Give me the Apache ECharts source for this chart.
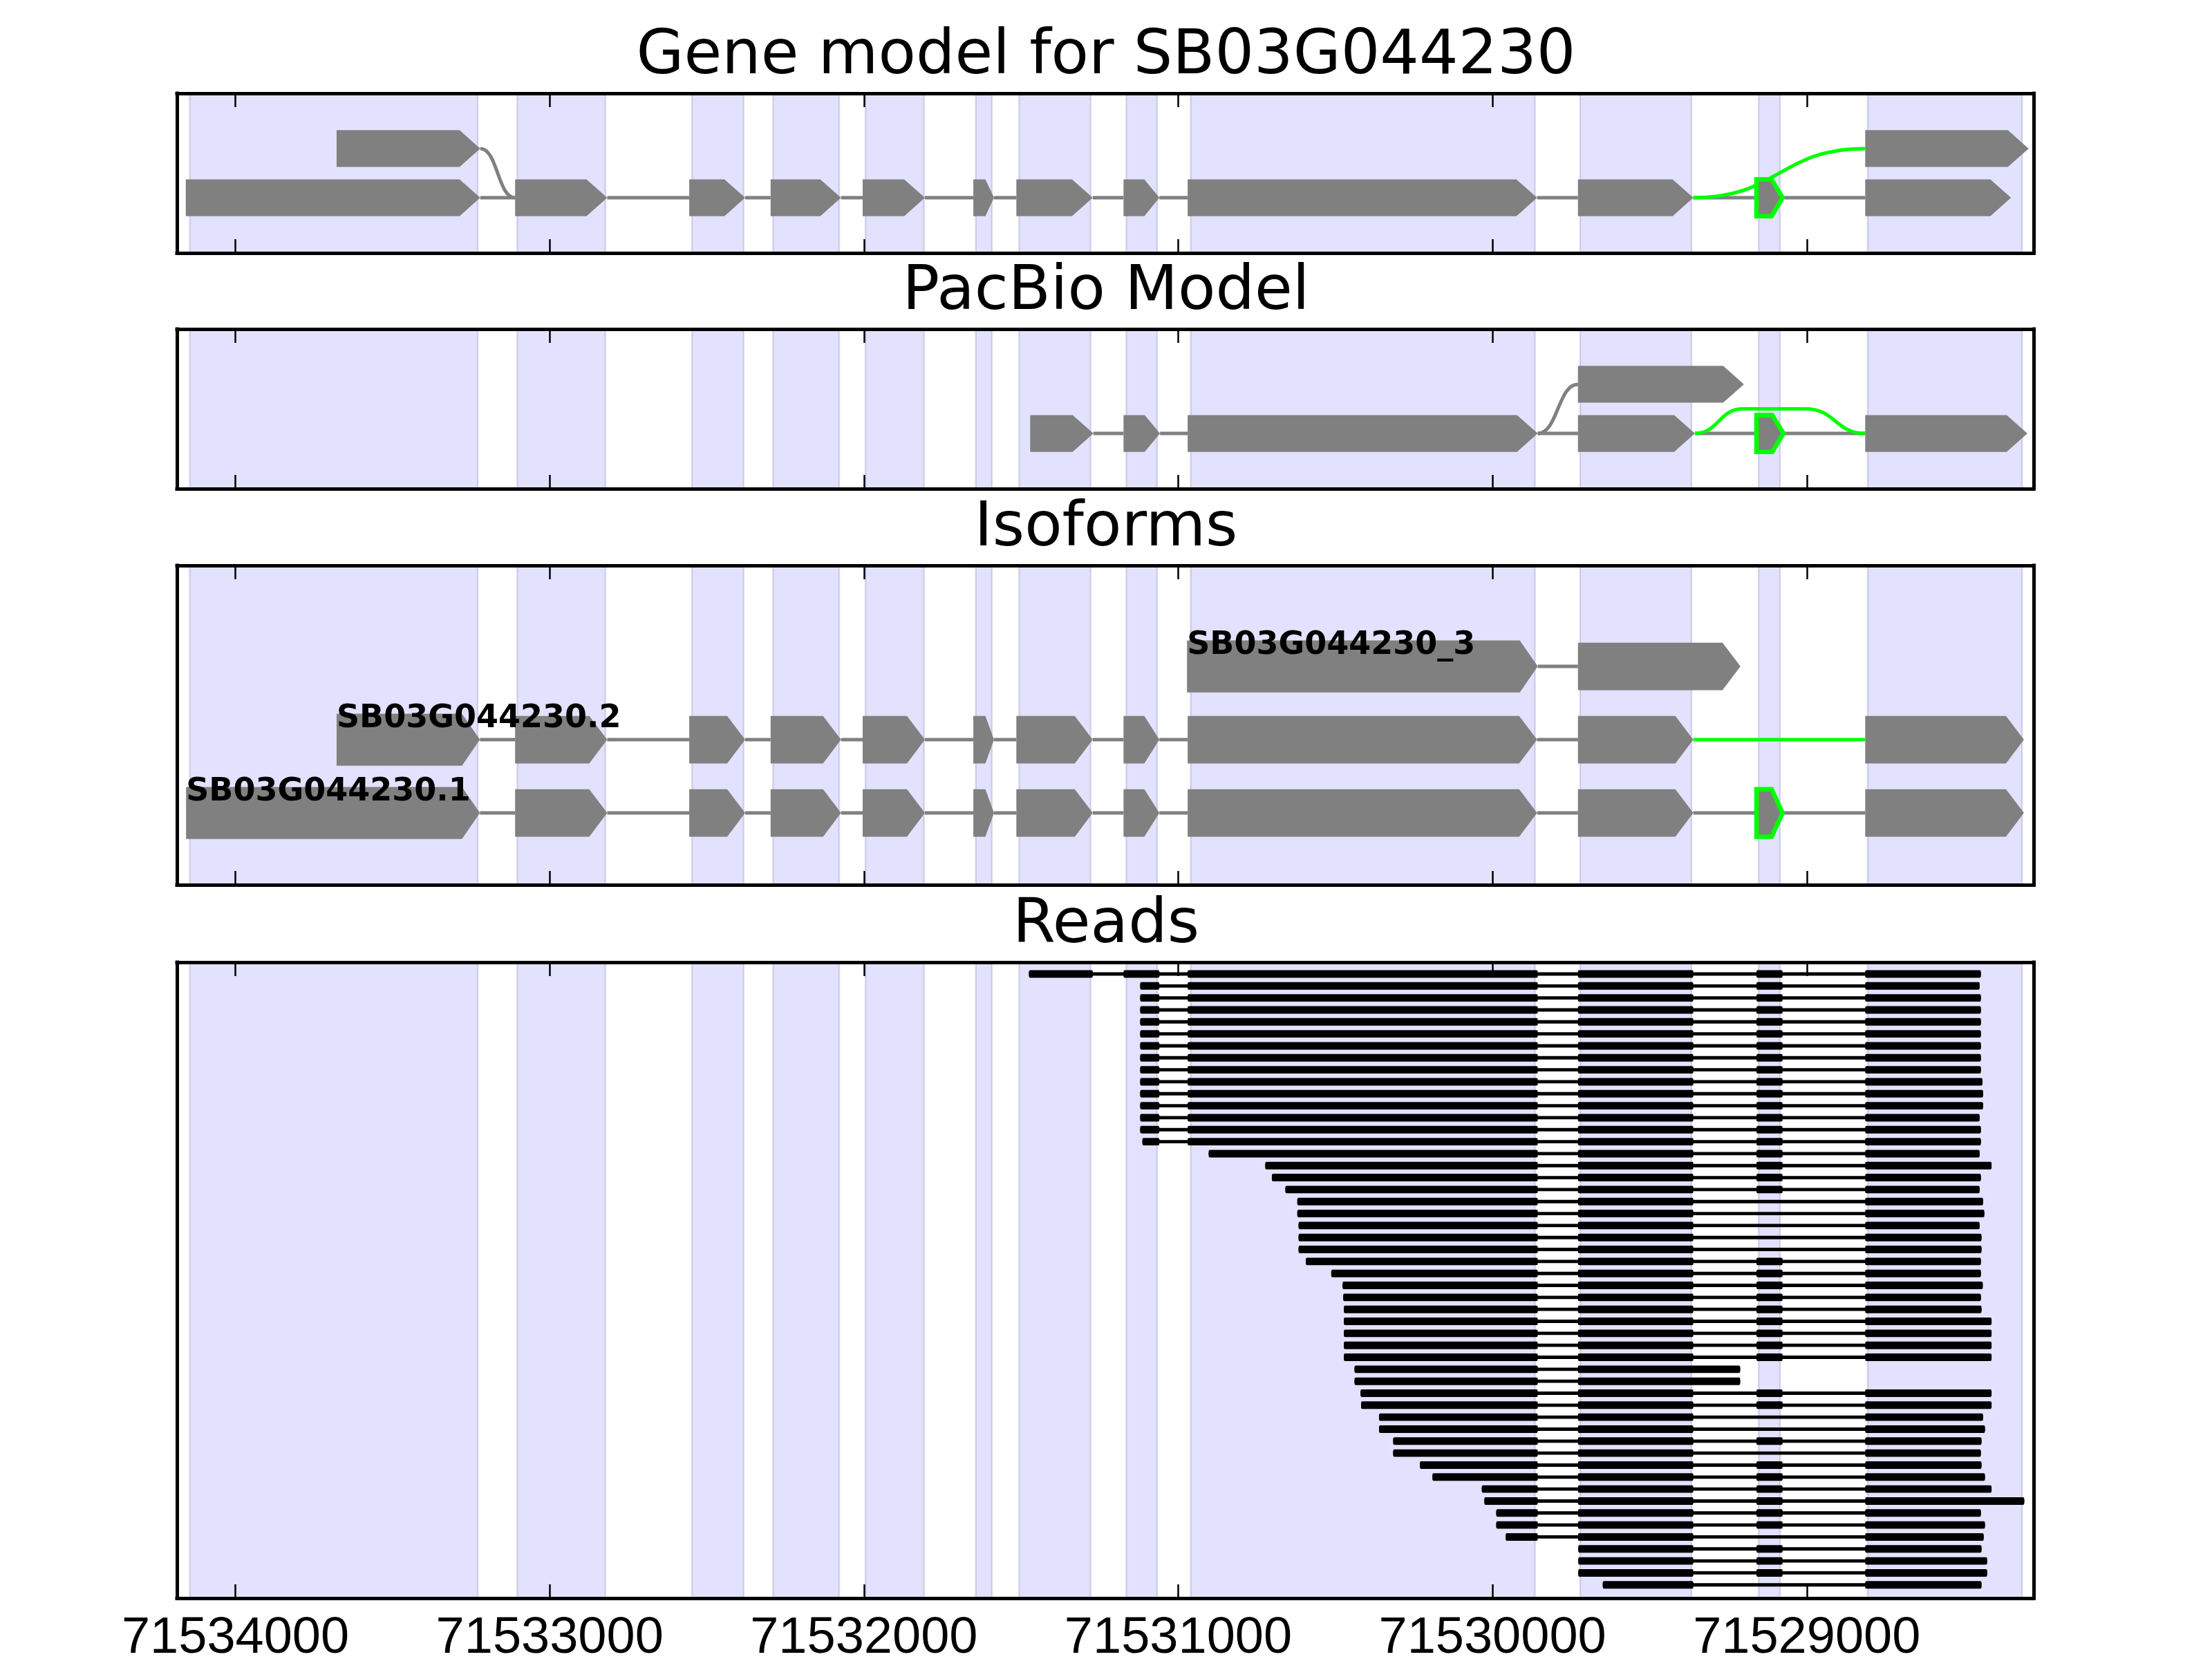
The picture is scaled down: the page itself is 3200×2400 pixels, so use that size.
<!DOCTYPE html>
<html><head><meta charset="utf-8">
<script src="https://cdn.jsdelivr.net/npm/echarts@6/dist/echarts.min.js"></script>
<style>html,body{margin:0;padding:0;background:#fff}#c{width:3200px;height:2400px}</style>
</head><body><div id="c"></div>
<script>
// ---------------- DATA ----------------
const panelTitles = ['Gene model for SB03G044230', 'PacBio Model', 'Isoforms', 'Reads'];
const xTicks = [71534000, 71533000, 71532000, 71531000, 71530000, 71529000];
const xRange = [71528278, 71534186];

// exon regions shaded in every panel [start, end]
const shadeRegions = [
  [71534145, 71533229], [71533103, 71532823], [71532547, 71532383], [71532289, 71532079],
  [71531995, 71531809], [71531644, 71531593], [71531506, 71531279], [71531165, 71531067],
  [71530960, 71529865], [71529721, 71529367], [71529153, 71529085], [71528806, 71528315]
];

// Gene model: [start, end, row, alternative(1=highlighted)]
const geneModelExons = [
  [71534158, 71533221, 0, 0], [71533110, 71532817, 0, 0], [71532556, 71532378, 0, 0],
  [71532297, 71532073, 0, 0], [71532004, 71531806, 0, 0], [71531652, 71531586, 0, 0],
  [71531515, 71531272, 0, 0], [71531174, 71531060, 0, 0], [71530970, 71529858, 0, 0],
  [71529728, 71529361, 0, 0], [71529160, 71529077, 0, 1], [71528814, 71528350, 0, 0],
  [71533678, 71533221, 1, 0], [71528814, 71528294, 1, 0]
];
// junctions: [from, fromRow, to, toRow, kind(0 line,1 curve,2 arc), alternative, arcHeight]
const geneModelJunctions = [
  [71533221, 0, 71533110, 0, 0, 0, 0], [71532817, 0, 71532556, 0, 0, 0, 0],
  [71532378, 0, 71532297, 0, 0, 0, 0], [71532073, 0, 71532004, 0, 0, 0, 0],
  [71531806, 0, 71531652, 0, 0, 0, 0], [71531586, 0, 71531515, 0, 0, 0, 0],
  [71531272, 0, 71531174, 0, 0, 0, 0], [71531060, 0, 71530970, 0, 0, 0, 0],
  [71529858, 0, 71529728, 0, 0, 0, 0], [71529361, 0, 71529160, 0, 0, 0, 0],
  [71529077, 0, 71528814, 0, 0, 0, 0],
  [71533221, 1, 71533110, 0, 1, 0, 0],
  [71529361, 0, 71528814, 1, 1, 1, 0]
];

const pacbioExons = [
  [71531471, 71531270, 0, 0], [71531174, 71531058, 0, 0], [71530970, 71529856, 0, 0],
  [71529728, 71529356, 0, 0], [71529160, 71529074, 0, 1], [71528814, 71528298, 0, 0],
  [71529728, 71529200, 1, 0]
];
const pacbioJunctions = [
  [71531270, 0, 71531174, 0, 0, 0, 0], [71531058, 0, 71530970, 0, 0, 0, 0],
  [71529856, 0, 71529728, 0, 0, 0, 0], [71529356, 0, 71529160, 0, 0, 0, 0],
  [71529074, 0, 71528814, 0, 0, 0, 0],
  [71529856, 0, 71529728, 1, 1, 0, 0],
  [71529356, 0, 71528814, 0, 2, 1, 0.5]
];

const isoformNames = ['SB03G044230.1', 'SB03G044230.2', 'SB03G044230_3'];
const isoformExons = [
  [71534157, 71533222, 0, 0], [71533110, 71532817, 0, 0], [71532556, 71532378, 0, 0],
  [71532297, 71532073, 0, 0], [71532004, 71531806, 0, 0], [71531652, 71531586, 0, 0],
  [71531515, 71531272, 0, 0], [71531174, 71531060, 0, 0], [71530970, 71529858, 0, 0],
  [71529728, 71529361, 0, 0], [71529160, 71529077, 0, 1], [71528814, 71528309, 0, 0],
  [71533678, 71533222, 1, 0], [71533110, 71532817, 1, 0], [71532556, 71532378, 1, 0],
  [71532297, 71532073, 1, 0], [71532004, 71531806, 1, 0], [71531652, 71531586, 1, 0],
  [71531515, 71531272, 1, 0], [71531174, 71531060, 1, 0], [71530970, 71529858, 1, 0],
  [71529728, 71529361, 1, 0], [71528814, 71528309, 1, 0],
  [71530972, 71529856, 2, 0], [71529728, 71529211, 2, 0]
];
const isoformJunctions = [
  [71533222, 0, 71533110, 0, 0, 0, 0], [71532817, 0, 71532556, 0, 0, 0, 0],
  [71532378, 0, 71532297, 0, 0, 0, 0], [71532073, 0, 71532004, 0, 0, 0, 0],
  [71531806, 0, 71531652, 0, 0, 0, 0], [71531586, 0, 71531515, 0, 0, 0, 0],
  [71531272, 0, 71531174, 0, 0, 0, 0], [71531060, 0, 71530970, 0, 0, 0, 0],
  [71529858, 0, 71529728, 0, 0, 0, 0], [71529361, 0, 71529160, 0, 0, 0, 0],
  [71529077, 0, 71528814, 0, 0, 0, 0],
  [71533222, 1, 71533110, 1, 0, 0, 0], [71532817, 1, 71532556, 1, 0, 0, 0],
  [71532378, 1, 71532297, 1, 0, 0, 0], [71532073, 1, 71532004, 1, 0, 0, 0],
  [71531806, 1, 71531652, 1, 0, 0, 0], [71531586, 1, 71531515, 1, 0, 0, 0],
  [71531272, 1, 71531174, 1, 0, 0, 0], [71531060, 1, 71530970, 1, 0, 0, 0],
  [71529858, 1, 71529728, 1, 0, 0, 0], [71529361, 1, 71528814, 1, 0, 1, 0],
  [71529856, 2, 71529728, 2, 0, 0, 0]
];

// Reads: exon model used by the reads (index 4 = alternative exon)
const readExonModel = [
  [71531515, 71531272], [71531174, 71531060], [71530970, 71529856],
  [71529728, 71529361], [71529160, 71529077], [71528814, 71528200]
];
const readStarts = [
  71531475, 71531121, 71531121, 71531121, 71531121, 71531121, 71531121, 71531121,
  71531121, 71531121, 71531121, 71531121, 71531121, 71531121, 71531114, 71530903,
  71530723, 71530702, 71530659, 71530621, 71530621, 71530617, 71530617, 71530617,
  71530594, 71530513, 71530477, 71530475, 71530473, 71530473, 71530473, 71530473,
  71530473, 71530439, 71530439, 71530420, 71530418, 71530361, 71530361, 71530316,
  71530316, 71530231, 71530191, 71530034, 71530026, 71529988, 71529988, 71529958,
  71529727, 71529727, 71529727, 71529649
];
const readEnds = [
  71528446, 71528450, 71528446, 71528446, 71528446, 71528446, 71528446, 71528446,
  71528446, 71528441, 71528439, 71528439, 71528450, 71528446, 71528446, 71528450,
  71528412, 71528446, 71528450, 71528439, 71528435, 71528450, 71528444, 71528444,
  71528446, 71528446, 71528440, 71528446, 71528444, 71528412, 71528412, 71528412,
  71528412, 71529212, 71529212, 71528412, 71528412, 71528439, 71528433, 71528444,
  71528446, 71528444, 71528433, 71528412, 71528308, 71528446, 71528433, 71528437,
  71528444, 71528426, 71528426, 71528444
];
const readSkipsAltExon = [
  0, 0, 0, 0, 0, 0, 0, 0, 0, 0, 0, 0, 0, 0, 0, 0, 0, 0, 0, 1, 1, 1, 1, 1, 0, 0,
  0, 0, 0, 0, 0, 0, 0, 0, 0, 0, 0, 1, 1, 0, 1, 0, 0, 0, 0, 0, 0, 1, 0, 0, 0, 1
];

// ---------------- STYLE / LAYOUT ----------------
const GRAY = '#808080', LIME = '#00ff00';
const SHADE_FILL = '#e2e2fe', SHADE_EDGE = 'rgba(150,150,200,0.35)';
const GRID_LEFT = 256, GRID_WIDTH = 2686;
const GRIDS = [{top: 135, height: 231}, {top: 476, height: 231}, {top: 818, height: 462}, {top: 1392, height: 920}];
const Y_RANGES = [[-1.125, 2.125], [-1.125, 2.125], [-0.98, 3.378], [-0.98, 52.11]];
const HEAD_MAX = [30, 30, 26];

// ---------------- RENDERERS ----------------
function shadeRender(params, api) {
  const cs = params.coordSys;
  const a = api.coord([api.value(0), 0])[0];
  const b = api.coord([api.value(1), 0])[0];
  return {type: 'rect', shape: {x: Math.min(a, b), y: cs.y, width: Math.abs(b - a), height: cs.height},
          style: {fill: SHADE_FILL, stroke: SHADE_EDGE, lineWidth: 2.5}};
}
function exonRender(headMax) {
  return function (params, api) {
    const row = api.value(2);
    const p1 = api.coord([api.value(0), row]);
    const p2 = api.coord([api.value(1), row]);
    const h = Math.abs(api.size([0, api.value(4)])[1]);
    const xl = Math.min(p1[0], p2[0]), xr = Math.max(p1[0], p2[0]);
    const yc = p1[1];
    const head = Math.min(headMax, 0.42 * (xr - xl));
    const alt = api.value(3) === 1;
    return {type: 'polygon', shape: {points: [[xl, yc - h / 2], [xr - head, yc - h / 2], [xr, yc], [xr - head, yc + h / 2], [xl, yc + h / 2]]},
            style: {fill: GRAY, stroke: alt ? LIME : null, lineWidth: alt ? 6.5 : 0, lineJoin: 'miter'}};
  };
}
function sCurve(x1, y1, x2, y2, style) {
  const mx = (x1 + x2) / 2;
  return {type: 'bezierCurve', shape: {x1: x1, y1: y1, x2: x2, y2: y2, cpx1: mx, cpy1: y1, cpx2: mx, cpy2: y2}, style: style};
}
function junctionRender(params, api) {
  const p1 = api.coord([api.value(0), api.value(1)]);
  const p2 = api.coord([api.value(2), api.value(3)]);
  const kind = api.value(4);
  const style = {stroke: api.value(5) === 1 ? LIME : GRAY, lineWidth: 5, fill: null};
  if (kind === 0) {
    return {type: 'line', shape: {x1: p1[0], y1: p1[1], x2: p2[0], y2: p2[1]}, style: style};
  }
  if (kind === 1) {
    return sCurve(p1[0], p1[1], p2[0], p2[1], style);
  }
  const yTop = api.coord([api.value(0), api.value(1) + api.value(6)])[1];
  const dx = p2[0] - p1[0];
  const xa = p1[0] + 0.28 * dx, xb = p2[0] - 0.35 * dx;
  return {type: 'group', children: [
    sCurve(p1[0], p1[1], xa, yTop, style),
    {type: 'line', shape: {x1: xa, y1: yTop, x2: xb, y2: yTop}, style: style},
    sCurve(xb, yTop, p2[0], p2[1], style)
  ]};
}
function labelRender(params, api) {
  const p = api.coord([api.value(0), api.value(1)]);
  return {type: 'text', x: p[0], y: p[1] - 30,
          style: {text: isoformNames[api.value(1)], fill: '#000', fontSize: 46, fontWeight: 'bold',
                  fontFamily: 'DejaVu Sans', align: 'left', verticalAlign: 'middle'}};
}

// read blocks built from read start/end and the read exon model
function readBlocks(s, e, skip) {
  const blocks = [];
  readExonModel.forEach(function (ex, k) {
    if (skip && k === 4) return;
    const a = Math.min(ex[0], s), b = Math.max(ex[1], e);
    if (a > b) blocks.push([a, b]);
  });
  const last = blocks[blocks.length - 1];
  if (last && last[1] > e) last[1] = e;
  return blocks;
}
const readBlockList = readStarts.map(function (s, i) { return readBlocks(s, readEnds[i], readSkipsAltExon[i]); });
const READ_BAR_H = 0.63, READ_LINE_H = 0.28;
function readsRender(params, api) {
  const i = params.dataIndex;
  const row = api.value(2);
  const s = api.coord([api.value(0), row]);
  const e = api.coord([api.value(1), row]);
  const hb = Math.abs(api.size([0, READ_BAR_H])[1]);
  const hl = Math.abs(api.size([0, READ_LINE_H])[1]);
  const children = [{type: 'rect', shape: {x: Math.min(s[0], e[0]), y: s[1] - hl / 2, width: Math.abs(e[0] - s[0]), height: hl}, style: {fill: '#000'}}];
  readBlockList[i].forEach(function (b) {
    const p = api.coord([b[0], row]), q = api.coord([b[1], row]);
    children.push({type: 'rect', shape: {x: Math.min(p[0], q[0]), y: p[1] - hb / 2, width: Math.abs(q[0] - p[0]), height: hb, r: 2}, style: {fill: '#000'}});
  });
  return {type: 'group', children: children};
}

// ---------------- OPTION ----------------
function exonData(list, panel) {
  // first exon of each isoform row is drawn slightly taller in the isoform panel
  const firstOfRow = {};
  list.forEach(function (ex, k) { if (firstOfRow[ex[2]] === undefined || ex[0] > list[firstOfRow[ex[2]]][0]) firstOfRow[ex[2]] = k; });
  return list.map(function (ex, k) {
    let h = 0.75;
    if (panel === 2) h = (firstOfRow[ex[2]] === k) ? 0.71 : 0.65;
    return [ex[0], ex[1], ex[2], ex[3], h];
  });
}

const xAxes = [], yAxes = [], series = [];
const frameLine = {show: true, onZero: false, lineStyle: {color: '#000', width: 5, cap: 'square'}};
GRIDS.forEach(function (g, i) {
  ['bottom', 'top'].forEach(function (pos) {
    xAxes.push({
      gridIndex: i, type: 'value', min: xRange[0], max: xRange[1], inverse: true, position: pos, z: 10,
      axisLine: frameLine,
      axisTick: {show: true, inside: true, length: 20, customValues: xTicks, lineStyle: {color: '#000', width: 2.5}},
      axisLabel: {show: i === 3 && pos === 'bottom', customValues: xTicks, formatter: function (v) { return String(v); },
                  fontFamily: 'Liberation Sans', fontSize: 74, color: '#000', margin: 22},
      splitLine: {show: false}
    });
  });
  ['left', 'right'].forEach(function (pos) {
    yAxes.push({
      gridIndex: i, type: 'value', min: Y_RANGES[i][0], max: Y_RANGES[i][1], inverse: i === 3, position: pos, z: 10,
      axisLine: frameLine, axisTick: {show: false}, axisLabel: {show: false}, splitLine: {show: false}
    });
  });
  const ax = {xAxisIndex: 2 * i, yAxisIndex: 2 * i};
  series.push(Object.assign({type: 'custom', z: 1, silent: true, renderItem: shadeRender, data: shadeRegions, encode: {x: [0, 1]}}, ax));
});

const panelJunctions = [geneModelJunctions, pacbioJunctions, isoformJunctions];
const panelExons = [geneModelExons, pacbioExons, isoformExons];
[0, 1, 2].forEach(function (i) {
  const ax = {xAxisIndex: 2 * i, yAxisIndex: 2 * i};
  series.push(Object.assign({type: 'custom', z: 2, silent: true, renderItem: junctionRender, data: panelJunctions[i], encode: {x: [0, 2], y: [1, 3]}}, ax));
  series.push(Object.assign({type: 'custom', z: 3, silent: true, renderItem: exonRender(HEAD_MAX[i]), data: exonData(panelExons[i], i), encode: {x: [0, 1], y: 2}}, ax));
});
// isoform labels at the first exon start of each isoform row
const labelData = isoformNames.map(function (n, r) {
  let best = null;
  isoformExons.forEach(function (ex) { if (ex[2] === r && (best === null || ex[0] > best)) best = ex[0]; });
  return [best, r];
});
series.push({type: 'custom', xAxisIndex: 4, yAxisIndex: 4, z: 4, silent: true, renderItem: labelRender, data: labelData, encode: {x: 0, y: 1}});
series.push({type: 'custom', xAxisIndex: 6, yAxisIndex: 6, z: 3, silent: true, renderItem: readsRender,
             data: readStarts.map(function (s, i) { return [s, readEnds[i], i, readSkipsAltExon[i]]; }), encode: {x: [0, 1], y: 2}});

const option = {
  backgroundColor: '#fff',
  animation: false,
  title: panelTitles.map(function (t, i) {
    return {text: t, left: 'center', top: GRIDS[i].top - 52 - 44.5, padding: 0,
            textStyle: {fontFamily: 'DejaVu Sans', fontSize: 89, fontWeight: 'normal', color: '#000', lineHeight: 89}};
  }),
  grid: GRIDS.map(function (g) { return {left: GRID_LEFT, width: GRID_WIDTH, top: g.top, height: g.height, containLabel: false, outerBoundsMode: 'none'}; }),
  xAxis: xAxes,
  yAxis: yAxes,
  series: series
};
const chart = echarts.init(document.getElementById('c'), null, {renderer: 'canvas', width: 3200, height: 2400});
chart.setOption(option);
</script></body></html>
